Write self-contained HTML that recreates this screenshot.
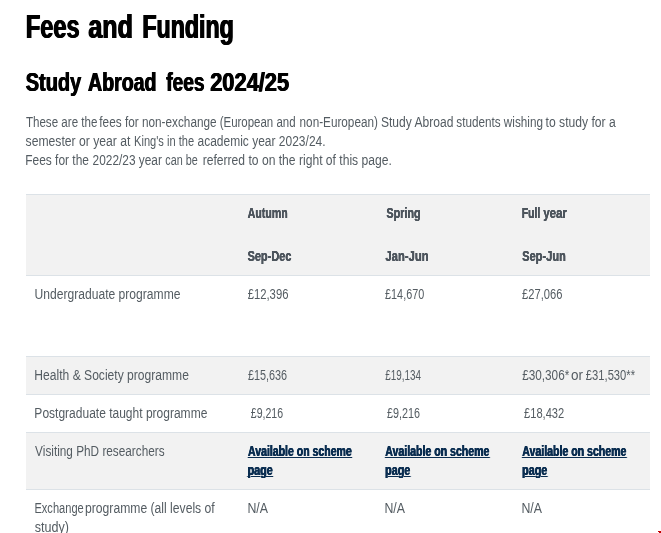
<!DOCTYPE html>
<html lang="en"><head><meta charset="utf-8"><title>Fees and Funding</title>
<style>
html,body{margin:0;padding:0;background:#fff;}
body{width:661px;height:533px;position:relative;overflow:hidden;font-family:"Liberation Sans",sans-serif;}
.t{position:absolute;margin:0;white-space:pre;line-height:1;transform-origin:0 0;display:block;}
h1,h2,p{margin:0;padding:0;font-size:0;line-height:0;height:0;}
a.t{text-decoration:underline;text-decoration-thickness:1px;text-underline-offset:1px;}
.row{position:absolute;left:26px;width:624px;}
.g{background:#f2f2f2;}
.b{position:absolute;left:26px;width:624px;height:1px;background:#dce2e7;}
.red{position:absolute;left:658px;top:531px;width:3px;height:1px;background:#c40000;}
.red2{position:absolute;left:659px;top:532px;width:2px;height:1px;background:#c40000;}
</style></head><body>
<div class="row g" style="top:194px;height:82px"></div>
<div class="row g" style="top:356px;height:38px"></div>
<div class="row g" style="top:432px;height:57px"></div>
<div class="b" style="top:194px"></div>
<div class="b" style="top:275px"></div>
<div class="b" style="top:356px"></div>
<div class="b" style="top:394px"></div>
<div class="b" style="top:432px"></div>
<div class="b" style="top:489px"></div>
<h1>
<span class="t" style="left:25px;top:9.73px;font-size:33.4px;font-weight:700;color:#000;transform:translateX(0.83px) scaleX(0.7064);text-shadow:0.8px 0 0 #000,-0.8px 0 0 #000;">Fees</span> 
<span class="t" style="left:88px;top:9.73px;font-size:33.4px;font-weight:700;color:#000;transform:translateX(0.33px) scaleX(0.7493);text-shadow:0.8px 0 0 #000,-0.8px 0 0 #000;">and</span> 
<span class="t" style="left:142px;top:9.73px;font-size:33.4px;font-weight:700;color:#000;transform:translateX(0.40px) scaleX(0.6940);text-shadow:0.8px 0 0 #000,-0.8px 0 0 #000;">Funding</span> 
</h1>
<h2>
<span class="t" style="left:25px;top:68.79px;font-size:26px;font-weight:700;color:#000;transform:translateX(0.71px) scaleX(0.7688);text-shadow:0.6px 0 0 #000,-0.6px 0 0 #000;">Study</span> 
<span class="t" style="left:88px;top:68.79px;font-size:26px;font-weight:700;color:#000;transform:translateX(0.07px) scaleX(0.7517);text-shadow:0.6px 0 0 #000,-0.6px 0 0 #000;">Abroad</span> 
<span class="t" style="left:166px;top:68.79px;font-size:26px;font-weight:700;color:#000;transform:translateX(0.22px) scaleX(0.7360);text-shadow:0.6px 0 0 #000,-0.6px 0 0 #000;">fees</span> 
<span class="t" style="left:210px;top:68.79px;font-size:26px;font-weight:700;color:#000;transform:translateX(0.21px) scaleX(0.8398);text-shadow:0.6px 0 0 #000,-0.6px 0 0 #000;">2024/25</span> 
</h2>
<p>
<span class="t" style="left:25px;top:114.85px;font-size:14px;font-weight:400;color:#545c62;transform:translateX(0.91px) scaleX(0.8275);">These are the</span> 
<span class="t" style="left:99px;top:114.85px;font-size:14px;font-weight:400;color:#545c62;transform:translateX(0.33px) scaleX(0.8422);">fees for non-exchange</span> 
<span class="t" style="left:219px;top:114.85px;font-size:14px;font-weight:400;color:#545c62;transform:translateX(0.69px) scaleX(0.8189);">(European and</span> 
<span class="t" style="left:299px;top:114.85px;font-size:14px;font-weight:400;color:#545c62;transform:translateX(0.57px) scaleX(0.8386);">non-European)</span> 
<span class="t" style="left:380px;top:114.85px;font-size:14px;font-weight:400;color:#545c62;transform:translateX(0.96px) scaleX(0.8615);">Study Abroad</span> 
<span class="t" style="left:456px;top:114.85px;font-size:14px;font-weight:400;color:#545c62;transform:translateX(0.28px) scaleX(0.8373);">students wishing</span> 
<span class="t" style="left:545px;top:114.85px;font-size:14px;font-weight:400;color:#545c62;transform:translateX(0.58px) scaleX(0.8674);">to study for a</span> 
<span class="t" style="left:25px;top:133.85px;font-size:14px;font-weight:400;color:#545c62;transform:translateX(0.58px) scaleX(0.8691);">semester or year at</span> 
<span class="t" style="left:134px;top:133.85px;font-size:14px;font-weight:400;color:#545c62;transform:translateX(0.05px) scaleX(0.7919);">King's in the</span> 
<span class="t" style="left:197px;top:133.85px;font-size:14px;font-weight:400;color:#545c62;transform:translateX(0.51px) scaleX(0.8569);">academic year 2023/24.</span> 
<span class="t" style="left:25px;top:152.85px;font-size:14px;font-weight:400;color:#545c62;transform:translateX(0.22px) scaleX(0.8535);">Fees for the</span> 
<span class="t" style="left:92px;top:152.85px;font-size:14px;font-weight:400;color:#545c62;transform:translateX(0.62px) scaleX(0.8478);">2022/23 year</span> 
<span class="t" style="left:165px;top:152.85px;font-size:14px;font-weight:400;color:#545c62;transform:translateX(0.24px) scaleX(0.7728);">can be</span> 
<span class="t" style="left:202px;top:152.85px;font-size:14px;font-weight:400;color:#545c62;transform:translateX(0.66px) scaleX(0.8651);">referred to on the right of this page.</span> 
</p>
<span class="t" style="left:247px;top:205.75px;font-size:14px;font-weight:700;color:#4d555d;transform:translateX(0.63px) scaleX(0.7585);text-shadow:0.15px 0 0 #4d555d,-0.15px 0 0 #4d555d;">Autumn</span> 
<span class="t" style="left:247px;top:248.75px;font-size:14px;font-weight:700;color:#4d555d;transform:translateX(0.57px) scaleX(0.7824);text-shadow:0.15px 0 0 #4d555d,-0.15px 0 0 #4d555d;">Sep-Dec</span> 
<span class="t" style="left:386px;top:205.75px;font-size:14px;font-weight:700;color:#4d555d;transform:translateX(0.45px) scaleX(0.7700);text-shadow:0.15px 0 0 #4d555d,-0.15px 0 0 #4d555d;">Spring</span> 
<span class="t" style="left:385px;top:248.75px;font-size:14px;font-weight:700;color:#4d555d;transform:translateX(0.48px) scaleX(0.8038);text-shadow:0.15px 0 0 #4d555d,-0.15px 0 0 #4d555d;">Jan-Jun</span> 
<b>
<span class="t" style="left:521px;top:205.75px;font-size:14px;font-weight:700;color:#4d555d;transform:translateX(0.78px) scaleX(0.7378);text-shadow:0.15px 0 0 #4d555d,-0.15px 0 0 #4d555d;">Full</span> 
<span class="t" style="left:543px;top:205.75px;font-size:14px;font-weight:700;color:#4d555d;transform:translateX(0.37px) scaleX(0.8178);text-shadow:0.15px 0 0 #4d555d,-0.15px 0 0 #4d555d;">year</span> 
</b>
<span class="t" style="left:522px;top:248.75px;font-size:14px;font-weight:700;color:#4d555d;transform:translateX(0.23px) scaleX(0.7888);text-shadow:0.15px 0 0 #4d555d,-0.15px 0 0 #4d555d;">Sep-Jun</span> 
<span class="t" style="left:34px;top:287.45px;font-size:14px;font-weight:400;color:#545c62;transform:translateX(0.51px) scaleX(0.8644);">Undergraduate programme</span> 
<span class="t" style="left:247px;top:287.45px;font-size:14px;font-weight:400;color:#545c62;transform:translateX(0.68px) scaleX(0.8053);">£12,396</span> 
<span class="t" style="left:385px;top:287.45px;font-size:14px;font-weight:400;color:#545c62;transform:translateX(0.08px) scaleX(0.7730);">£14,670</span> 
<span class="t" style="left:522px;top:287.45px;font-size:14px;font-weight:400;color:#545c62;transform:translateX(0.01px) scaleX(0.7975);">£27,066</span> 
<span class="t" style="left:34px;top:368.15px;font-size:14px;font-weight:400;color:#545c62;transform:translateX(0.33px) scaleX(0.8636);">Health &amp; Society programme</span> 
<span class="t" style="left:247px;top:368.15px;font-size:14px;font-weight:400;color:#545c62;transform:translateX(0.89px) scaleX(0.7758);">£15,636</span> 
<span class="t" style="left:385px;top:368.15px;font-size:14px;font-weight:400;color:#545c62;transform:translateX(0.22px) scaleX(0.7057);">£19,134</span> 
<span>
<span class="t" style="left:522px;top:368.15px;font-size:14px;font-weight:400;color:#545c62;transform:translateX(0.13px) scaleX(0.8411);">£30,306*</span> 
<span class="t" style="left:570px;top:368.15px;font-size:14px;font-weight:400;color:#545c62;transform:translateX(0.93px) scaleX(0.9638);">or</span> 
<span class="t" style="left:585px;top:368.15px;font-size:14px;font-weight:400;color:#545c62;transform:translateX(0.86px) scaleX(0.7992);">£31,530**</span> 
</span>
<span class="t" style="left:34px;top:406.15px;font-size:14px;font-weight:400;color:#545c62;transform:translateX(0.37px) scaleX(0.8580);">Postgraduate taught programme</span> 
<span class="t" style="left:250px;top:406.15px;font-size:14px;font-weight:400;color:#545c62;transform:translateX(0.79px) scaleX(0.7552);">£9,216</span> 
<span class="t" style="left:387px;top:406.15px;font-size:14px;font-weight:400;color:#545c62;transform:translateX(0.08px) scaleX(0.7707);">£9,216</span> 
<span class="t" style="left:524px;top:406.15px;font-size:14px;font-weight:400;color:#545c62;transform:translateX(0.01px) scaleX(0.7953);">£18,432</span> 
<span class="t" style="left:35px;top:444.15px;font-size:14px;font-weight:400;color:#545c62;transform:translateX(0.11px) scaleX(0.8420);">Visiting PhD researchers</span> 
<a class="t" style="left:248px;top:444.25px;font-size:14px;font-weight:700;color:#0a2d50;transform:translateX(0.01px) scaleX(0.7520);text-shadow:0.4px 0 0 #0a2d50,-0.4px 0 0 #0a2d50;">Available on scheme</a> 
<a class="t" style="left:247px;top:463.25px;font-size:14px;font-weight:700;color:#0a2d50;transform:translateX(0.58px) scaleX(0.7698);text-shadow:0.4px 0 0 #0a2d50,-0.4px 0 0 #0a2d50;">page</a> 
<a class="t" style="left:385px;top:444.25px;font-size:14px;font-weight:700;color:#0a2d50;transform:translateX(0.28px) scaleX(0.7547);text-shadow:0.4px 0 0 #0a2d50,-0.4px 0 0 #0a2d50;">Available on scheme</a> 
<a class="t" style="left:385px;top:463.25px;font-size:14px;font-weight:700;color:#0a2d50;transform:translateX(0.11px) scaleX(0.7697);text-shadow:0.4px 0 0 #0a2d50,-0.4px 0 0 #0a2d50;">page</a> 
<a class="t" style="left:522px;top:444.25px;font-size:14px;font-weight:700;color:#0a2d50;transform:translateX(0.28px) scaleX(0.7547);text-shadow:0.4px 0 0 #0a2d50,-0.4px 0 0 #0a2d50;">Available on scheme</a> 
<a class="t" style="left:522px;top:463.25px;font-size:14px;font-weight:700;color:#0a2d50;transform:translateX(0.11px) scaleX(0.7697);text-shadow:0.4px 0 0 #0a2d50,-0.4px 0 0 #0a2d50;">page</a> 
<span>
<span class="t" style="left:34px;top:500.95px;font-size:14px;font-weight:400;color:#545c62;transform:translateX(0.43px) scaleX(0.7914);">Exchange</span> 
<span class="t" style="left:85px;top:500.95px;font-size:14px;font-weight:400;color:#545c62;transform:translateX(0.01px) scaleX(0.8680);">programme (all levels of</span> 
<span class="t" style="left:34px;top:519.95px;font-size:14px;font-weight:400;color:#545c62;transform:translateX(0.75px) scaleX(0.8978);">study)</span> 
</span>
<span class="t" style="left:247px;top:501.15px;font-size:14px;font-weight:400;color:#545c62;transform:translateX(0.39px) scaleX(0.8825);">N/A</span> 
<span class="t" style="left:384px;top:501.15px;font-size:14px;font-weight:400;color:#545c62;transform:translateX(0.47px) scaleX(0.8800);">N/A</span> 
<span class="t" style="left:521px;top:501.15px;font-size:14px;font-weight:400;color:#545c62;transform:translateX(0.47px) scaleX(0.8800);">N/A</span> 
<div class="red"></div><div class="red2"></div>
</body></html>
